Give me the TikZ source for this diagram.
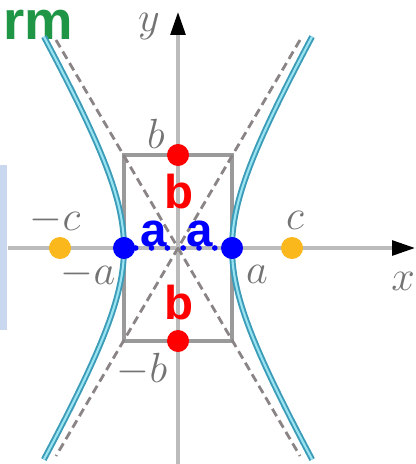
\documentclass[tikz,border=0pt]{standalone}
\usepackage{fontspec}
\newfontfamily\lblsans{Liberation Sans}
\usetikzlibrary{arrows.meta}
\definecolor{HypEdge}{HTML}{3C9CB8}
\definecolor{HypFill}{HTML}{9AE4F2}
\definecolor{AxisGray}{HTML}{BBBBBB}
\definecolor{BoxGray}{HTML}{9A9A9A}
\definecolor{AsymGray}{HTML}{8A8484}
\definecolor{Focus}{HTML}{FBB81C}
\definecolor{Panel}{HTML}{C9D8EF}
\definecolor{Mark}{HTML}{1E9645}
\begin{document}
\begin{tikzpicture}[x=0.01cm,y=-0.01cm,
  axis/.style={AxisGray,line width=0.9pt,-{Triangle[color=black,length=6.5pt,width=4.2pt]}},
  hyp/.style={HypEdge,line width=0.55pt,double=HypFill,double distance=0.6pt},
  asym/.style={AsymGray,line width=0.8pt,dash pattern=on 2.4pt off 1.4pt},
  dot/.style={circle,fill=#1,inner sep=0pt,minimum size=0.22cm},
  lbl/.style={text=gray!90!black,inner sep=1pt,font=\fontsize{13}{13}\selectfont},
  big/.style={text=#1,inner sep=0.5pt,anchor=base,text depth=0pt,font=\fontsize{13.5}{13.5}\lblsans\bfseries}]
\useasboundingbox (0,0) rectangle (416,464);
\fill[Panel] (0,165) rectangle (7,330);
\node[anchor=base west,inner sep=0pt,text=Mark,font=\fontsize{15.5}{15.5}\lblsans\bfseries] (rm) at (3,40) {rm};
% axes
\coordinate (O) at (178,248);
\coordinate (xl) at (8,248); \coordinate (xr) at (415,248);
\coordinate (yb) at (178,464); \coordinate (yt) at (178,12);
\draw[axis] (xl) -- (xr);
\draw[axis] (yb) -- (yt);
% box and asymptotes
\coordinate (q1) at (232,155); \coordinate (q2) at (124,155);
\coordinate (q3) at (124,341); \coordinate (q4) at (232,341);
\draw[BoxGray,line width=0.9pt] (q2) rectangle (q4);
\coordinate (s1) at (300,40); \coordinate (s2) at (56,40);
\coordinate (s3) at (56,456); \coordinate (s4) at (300,456);
\draw[asym] (s2) -- (s4);
\draw[asym] (s1) -- (s3);
% branches
\draw[hyp] plot[domain=-1.56:1.56,samples=50] ({178+54*cosh(\x)},{248-93*sinh(\x)});
\draw[hyp] plot[domain=-1.56:1.56,samples=50] ({178-54*cosh(\x)},{248-93*sinh(\x)});
% labels
\node[lbl] (ly) at (149,27) {$y$};
\node[lbl] (lx) at (403,281) {$x$};
\node[lbl] (lb) at (156,134) {$b$};
\node[lbl] (lmb) at (142,370) {$-b$};
\node[lbl] (lmc) at (55,220) {$-c$};
\node[lbl] (lc) at (295,220) {$c$};
\node[lbl] (lma) at (88,274) {$-a$};
\node[lbl] (la) at (257,274) {$a$};
% points
\foreach \n/\px in {F1/60,F2/292}{\node[dot=Focus] (\n) at (\px,248) {};}
\node[dot=blue] (A1) at (124,248) {};
\node[dot=blue] (A2) at (232,248) {};
\draw[blue,line width=1.6pt,dash pattern=on 0pt off 4.5pt,line cap=round] (A1) -- (A2);
\node[big=blue,text height=7.5pt] (a1) at (154,246) {a};
\node[big=blue,text height=7.5pt] (a2) at (200,246) {a};
\node[dot=red] (B1) at (178,155) {};
\node[dot=red] (B2) at (178,341) {};
\node[big=red,text height=10pt] (b1) at (179,208) {b};
\node[big=red,text height=10pt] (b2) at (179,319) {b};
\end{tikzpicture}
\end{document}
